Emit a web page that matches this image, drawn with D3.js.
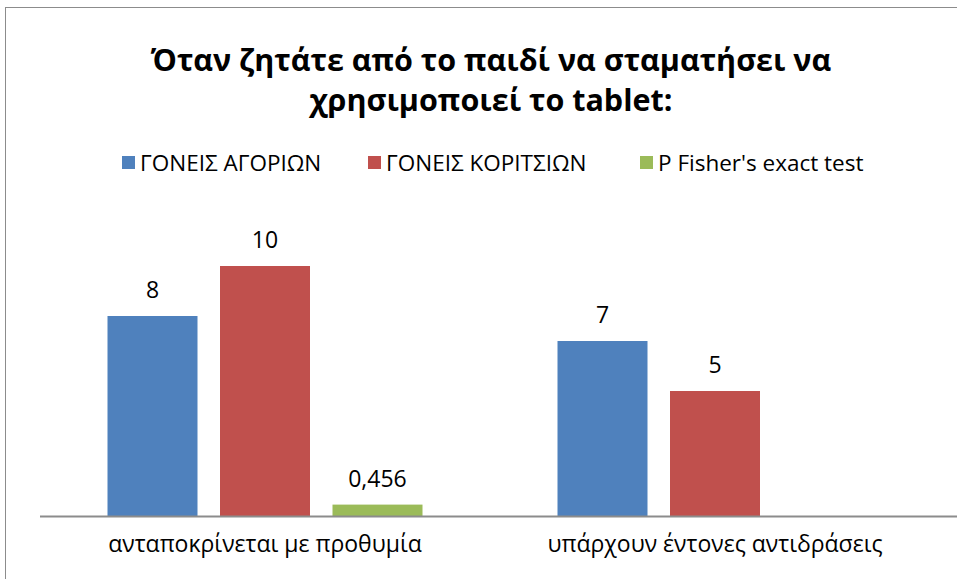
<!DOCTYPE html>
<html>
<head>
<meta charset="utf-8">
<script src="https://cdn.jsdelivr.net/npm/d3@7"></script>
<style>
  body { margin: 0; background: #fff; }
  svg { display: block; }
  text { font-family: "Open Sans", "Noto Sans", sans-serif; fill: #000; }
</style>
</head>
<body>
<svg width="957" height="579"></svg>
<script>
var categories = ['ανταποκρίνεται με προθυμία', 'υπάρχουν έντονες αντιδράσεις'];
var seriesNames = ['ΓΟΝΕΙΣ ΑΓΟΡΙΩΝ', 'ΓΟΝΕΙΣ ΚΟΡΙΤΣΙΩΝ', "P Fisher's exact test"];
var boys = [8, 7];
var girls = [10, 5];
var fisher = [0.456, null];
var colors = ['#4f81bd', '#c0504d', '#9bbb59'];

var svg = d3.select('svg');

// chart frame
svg.append('rect')
  .attr('x', 5.5).attr('y', 7.5)
  .attr('width', 1000).attr('height', 600)
  .attr('fill', 'none')
  .attr('stroke', '#8c8c8c')
  .attr('stroke-width', 1);

// title
var title = svg.append('text')
  .attr('text-anchor', 'middle')
  .attr('font-size', 30.5)
  .attr('font-weight', 'bold');
title.append('tspan').attr('x', 491).attr('y', 71).text('Όταν ζητάτε από το παιδί να σταματήσει να');
title.append('tspan').attr('x', 491).attr('y', 111).text('χρησιμοποιεί το tablet:');

// legend
var legendX = [122, 368, 640];
var legend = svg.selectAll('.legend')
  .data(seriesNames)
  .enter().append('g')
  .attr('transform', function(d, i) { return 'translate(' + legendX[i] + ',156)'; });
legend.append('rect')
  .attr('width', 13).attr('height', 13)
  .attr('fill', function(d, i) { return colors[i]; });
legend.append('text')
  .attr('x', 18).attr('y', 15)
  .attr('font-size', 22.5)
  .text(function(d) { return d; });

var x0 = d3.scaleBand()
  .domain(categories)
  .range([40, 940]);

var x1 = d3.scaleBand()
  .domain([0, 1, 2])
  .range([67.5, 450 - 67.5])
  .paddingInner(0.2);

var y = d3.scaleLinear()
  .domain([0, 12])
  .range([516, 216]);

var rows = [];
categories.forEach(function(c, ci) {
  [boys, girls, fisher].forEach(function(arr, si) {
    if (arr[ci] != null) rows.push({ cat: c, s: si, v: arr[ci] });
  });
});

svg.selectAll('.bar')
  .data(rows)
  .enter().append('rect')
  .attr('x', function(d) { return x0(d.cat) + x1(d.s); })
  .attr('y', function(d) { return y(d.v); })
  .attr('width', x1.bandwidth())
  .attr('height', function(d) { return y(0) - y(d.v); })
  .attr('fill', function(d) { return colors[d.s]; });

svg.selectAll('.lbl')
  .data(rows)
  .enter().append('text')
  .attr('x', function(d) { return x0(d.cat) + x1(d.s) + x1.bandwidth() / 2; })
  .attr('y', function(d) { return y(d.v) - 18; })
  .attr('text-anchor', 'middle')
  .attr('font-size', 23)
  .text(function(d) { return String(d.v).replace('.', ','); });

// x axis
var xAxis = d3.axisBottom(x0).tickSize(0).tickPadding(20);
var ax = svg.append('g')
  .attr('transform', 'translate(0,516)')
  .call(xAxis);
ax.attr('font-size', 23).attr('font-family', null);
ax.select('.domain')
  .attr('d', 'M40,0.5H957')
  .attr('stroke', '#8c8c8c')
  .attr('stroke-width', 2);
ax.selectAll('.tick text')
  .attr('fill', '#000');
</script>
</body>
</html>
